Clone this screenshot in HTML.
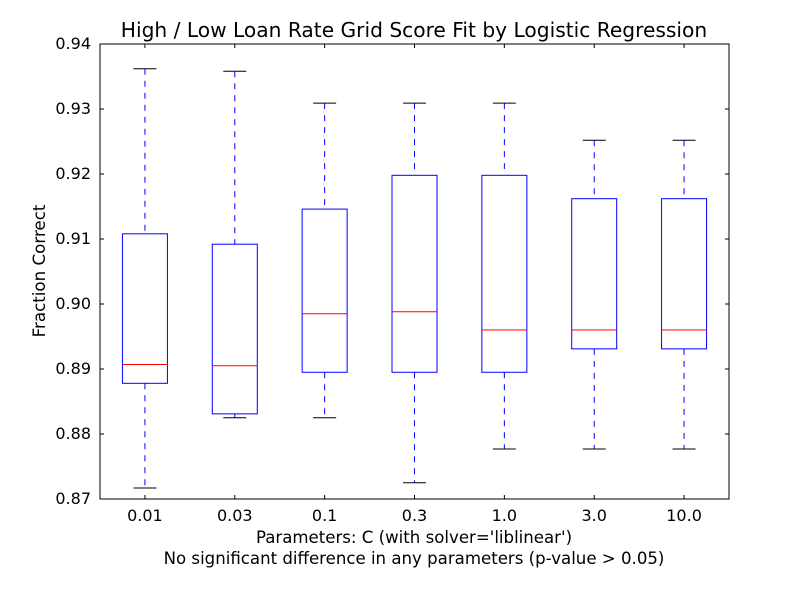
<!DOCTYPE html>
<html><head><meta charset="utf-8">
<style>
html,body{margin:0;padding:0;background:#fff;}
svg text{font-family:"DejaVu Sans","Liberation Sans",sans-serif;}
</style></head>
<body>
<svg id="chart" width="800" height="600" xmlns="http://www.w3.org/2000/svg">
<rect x="0" y="0" width="800" height="600" fill="#fff"/>
<text x="414" y="37" font-size="20.2" text-anchor="middle">High / Low Loan Rate Grid Score Fit by Logistic Regression</text>
<g id="marks"></g>
<rect x="100" y="44" width="629" height="455" fill="none" stroke="#000" stroke-width="1"/>
<g id="axes"></g>
<text transform="translate(45,271) rotate(-90)" font-size="16.7" text-anchor="middle">Fraction Correct</text>
<text x="414" y="543" font-size="16.6" text-anchor="middle">Parameters: C (with solver='liblinear')</text>
<text x="414" y="564" font-size="16.6" text-anchor="middle">No significant difference in any parameters (p-value &gt; 0.05)</text>
</svg>
<script>
const categories = ["0.01","0.03","0.1","0.3","1.0","3.0","10.0"];
const whiskerHigh = [0.9362,0.9358,0.9309,0.9309,0.9309,0.9252,0.9252];
const q3Values    = [0.9108,0.9092,0.9146,0.9198,0.9198,0.9162,0.9162];
const medians     = [0.8907,0.8905,0.8985,0.8988,0.8960,0.8960,0.8960];
const q1Values    = [0.8878,0.8831,0.8895,0.8895,0.8895,0.8931,0.8931];
const whiskerLow  = [0.8717,0.8825,0.8825,0.8725,0.8777,0.8777,0.8777];
const yTicks = [0.87,0.88,0.89,0.90,0.91,0.92,0.93,0.94];
const yTickLabels = ["0.87","0.88","0.89","0.90","0.91","0.92","0.93","0.94"];

const NS="http://www.w3.org/2000/svg";
const X0=100,X1=729,Y0=44,Y1=499,YMIN=0.87,YMAX=0.94;
function yScale(v){return Y1-(v-YMIN)/(YMAX-YMIN)*(Y1-Y0);}
function xScale(i){return X0+(X1-X0)*(i+0.5)/categories.length;}
function mk(tag,attrs,parent){const e=document.createElementNS(NS,tag);for(const k in attrs)e.setAttribute(k,attrs[k]);parent.appendChild(e);return e;}
const marks=document.getElementById('marks'),axes=document.getElementById('axes');
const bw=45,cw=23;
categories.forEach((c,i)=>{
  const x=xScale(i);
  const g=mk('g',{},marks);
  
  
  const w1=mk('line',{x1:x,x2:x,y1:yScale(whiskerHigh[i]),y2:yScale(q3Values[i]),stroke:'#0000ff','stroke-dasharray':'6,6'},g);
  
  
  const w2=mk('line',{x1:x,x2:x,y1:yScale(q1Values[i]),y2:yScale(whiskerLow[i]),stroke:'#0000ff','stroke-dasharray':'6,6'},g);
  
  
  const c1=mk('line',{x1:x-cw/2,x2:x+cw/2,y1:yScale(whiskerHigh[i]),y2:yScale(whiskerHigh[i]),stroke:'#000'},g);
  
  
  const c2=mk('line',{x1:x-cw/2,x2:x+cw/2,y1:yScale(whiskerLow[i]),y2:yScale(whiskerLow[i]),stroke:'#000'},g);
  
  
  const r=mk('rect',{x:x-bw/2,y:yScale(q3Values[i]),width:bw,height:yScale(q1Values[i])-yScale(q3Values[i]),fill:'none',stroke:'#0000ff'},g);
  
  
  const m=mk('line',{x1:x-bw/2,x2:x+bw/2,y1:yScale(medians[i]),y2:yScale(medians[i]),stroke:'#ff0000'},g);
  
  
  mk('line',{x1:x,x2:x,y1:Y1,y2:Y1-4,stroke:'#000'},axes);
  mk('line',{x1:x,x2:x,y1:Y0,y2:Y0+4,stroke:'#000'},axes);
  const t=mk('text',{x:x,y:Y1+22,'font-size':'16','text-anchor':'middle'},axes);
  t.textContent=c;
  
  
});
yTicks.forEach((v,i)=>{
  const y=yScale(v);
  mk('line',{x1:X0,x2:X0+4,y1:y,y2:y,stroke:'#000'},axes);
  mk('line',{x1:X1,x2:X1-4,y1:y,y2:y,stroke:'#000'},axes);
  const t=mk('text',{x:X0-9,y:y+5,'font-size':'16','text-anchor':'end'},axes);
  t.textContent=yTickLabels[i];
  
  
});
</script>
</body></html>
